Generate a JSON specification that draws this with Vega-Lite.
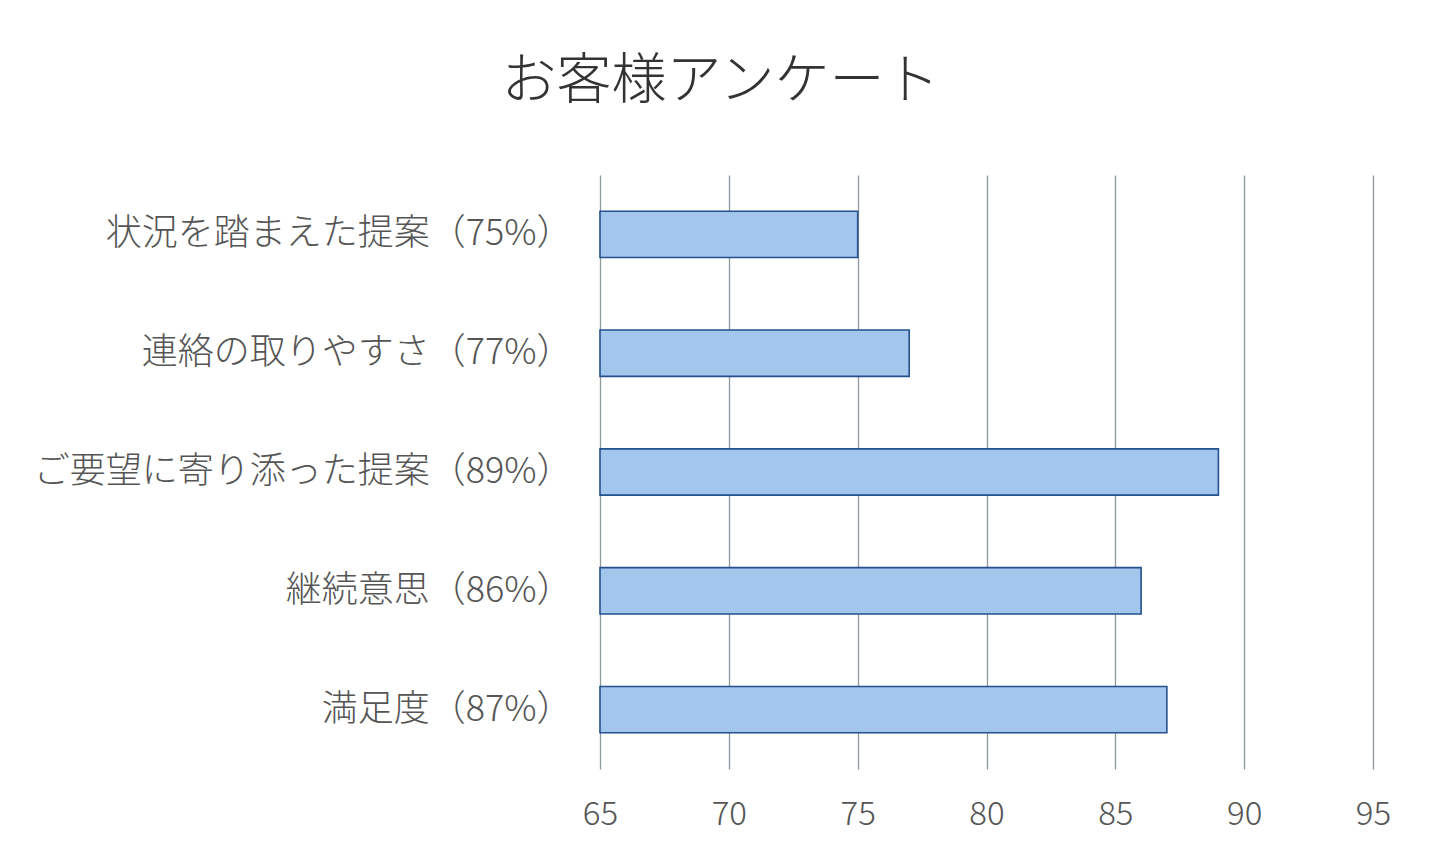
{
  "$schema": "https://vega.github.io/schema/vega-lite/v6.json",
  "autosize": "none",
  "padding": {"left": 600, "top": 175, "right": 67, "bottom": 98},
  "width": 773,
  "height": 594,
  "background": "white",
  "title": {
    "text": "お客様アンケート",
    "fontSize": 55,
    "fontWeight": 300,
    "font": "Noto Sans CJK JP",
    "color": "#333333",
    "anchor": "middle",
    "dx": -266,
    "offset": 65
  },
  "data": {
    "values": [
      {"item": "状況を踏まえた提案（75%）", "score": 75},
      {"item": "連絡の取りやすさ（77%）", "score": 77},
      {"item": "ご要望に寄り添った提案（89%）", "score": 89},
      {"item": "継続意思（86%）", "score": 86},
      {"item": "満足度（87%）", "score": 87}
    ]
  },
  "mark": {
    "type": "bar",
    "fill": "#a3c6ec",
    "stroke": "#24508f",
    "strokeWidth": 1.6
  },
  "encoding": {
    "y": {
      "field": "item",
      "type": "nominal",
      "sort": null,
      "title": null,
      "scale": {"paddingInner": 0.61, "paddingOuter": 0.305},
      "axis": {
        "domain": false,
        "ticks": false,
        "labelPadding": 28,
        "labelFontSize": 36,
        "labelLimit": 600
      }
    },
    "x": {
      "field": "score",
      "type": "quantitative",
      "title": null,
      "scale": {"domain": [65, 95], "nice": false, "zero": false},
      "axis": {
        "values": [65, 70, 75, 80, 85, 90, 95],
        "domain": false,
        "ticks": false,
        "grid": true,
        "gridColor": "#8e999e",
        "gridWidth": 1.3,
        "labelFlush": false,
        "labelPadding": 29,
        "labelFontSize": 33
      }
    },
    "x2": {"datum": 65}
  },
  "config": {
    "view": {"stroke": null},
    "axis": {
      "labelFont": "Noto Sans CJK JP",
      "labelFontWeight": 300,
      "labelColor": "#555555"
    }
  }
}
